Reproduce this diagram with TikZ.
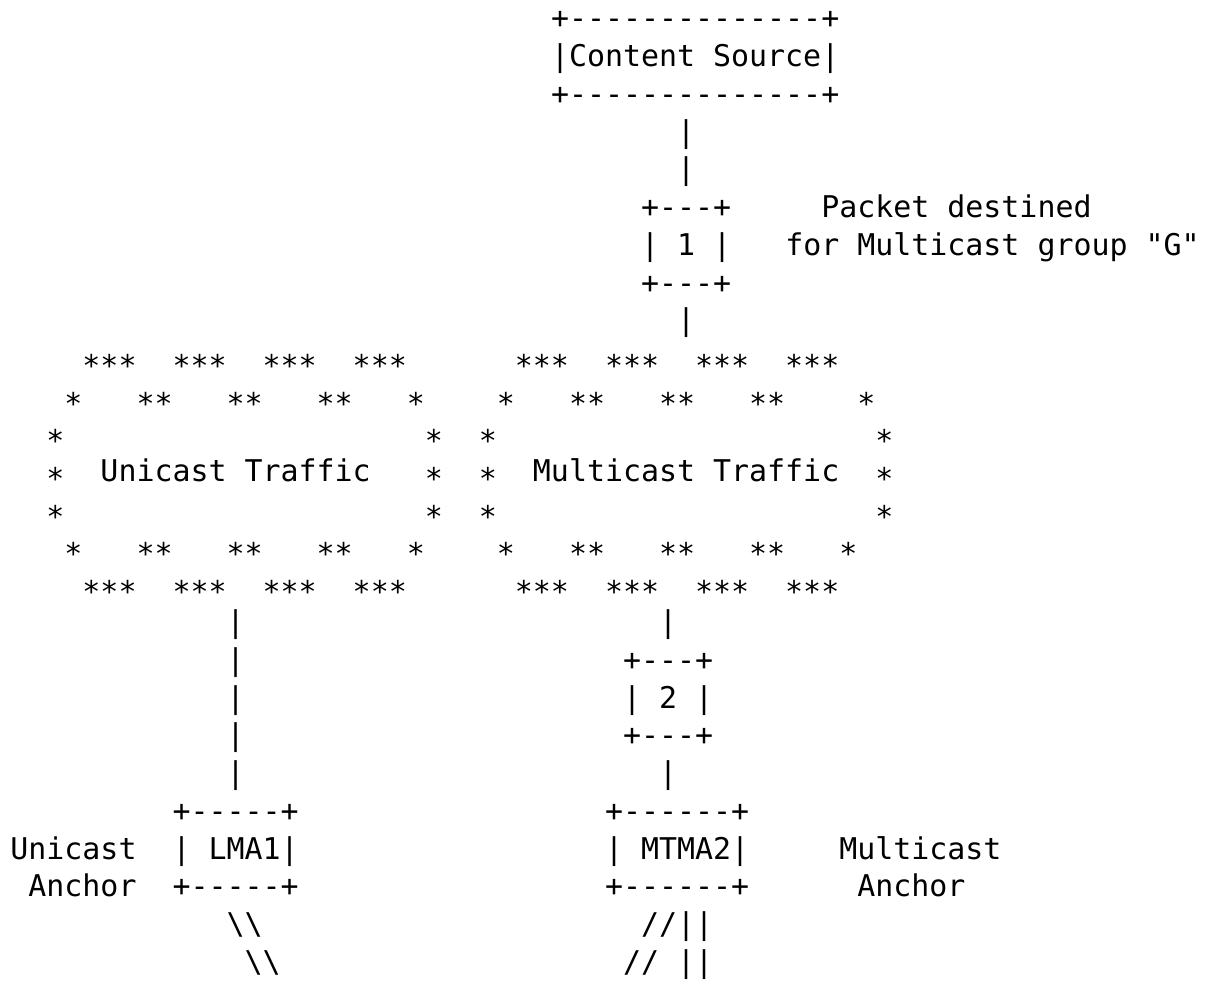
\documentclass[tikz,border=0pt]{standalone}
\usepackage{fontspec}
\setmonofont{DejaVu Sans Mono}
\newcommand\sk{\raisebox{-0.26em}{*}}
\newcommand\gap[1]{\hspace*{#1\dimexpr 9.01pt\relax}}
\newcommand\bsl{\textbackslash}
\newcommand\txtat[4]{\node[txt] (#1) at ({#2+0.577},{#3+0.768}) {#4};}
\begin{document}
\begin{tikzpicture}[x=9.01pt,y=-18.865pt,
  txt/.style={anchor=base west,inner sep=0pt,outer sep=0pt,text=black,
    font=\fontsize{14.965pt}{18pt}\selectfont\ttfamily}]
\useasboundingbox (0pt,0pt) rectangle (606pt,-490.5pt);
% Content source
\txtat{cstop}{30}{0}{+--------------+}
\txtat{cs}{30}{1}{|Content Source|}
\txtat{csbot}{30}{2}{+--------------+}
\txtat{la}{37}{3}{|}
\txtat{lb}{37}{4}{|}
% router 1
\txtat{onetop}{35}{5}{+---+}
\txtat{one}{35}{6}{|\gap{1}1\gap{1}|}
\txtat{onebot}{35}{7}{+---+}
\txtat{pkt}{45}{5}{Packet destined}
\txtat{grp}{43}{6}{for Multicast group "G"}
\txtat{lc}{37}{8}{|}
% clouds
\txtat{ua}{4}{9}{\sk\sk\sk\gap{2}\sk\sk\sk\gap{2}\sk\sk\sk\gap{2}\sk\sk\sk}
\txtat{ma}{28}{9}{\sk\sk\sk\gap{2}\sk\sk\sk\gap{2}\sk\sk\sk\gap{2}\sk\sk\sk}
\txtat{ub}{3}{10}{\sk\gap{3}\sk\sk\gap{3}\sk\sk\gap{3}\sk\sk\gap{3}\sk}
\txtat{mb}{27}{10}{\sk\gap{3}\sk\sk\gap{3}\sk\sk\gap{3}\sk\sk\gap{4}\sk}
\txtat{uc}{2}{11}{\sk\gap{20}\sk}
\txtat{mc}{26}{11}{\sk\gap{21}\sk}
\txtat{ud}{2}{12}{\sk\gap{2}Unicast Traffic\gap{3}\sk}
\txtat{md}{26}{12}{\sk\gap{2}Multicast Traffic\gap{2}\sk}
\txtat{ue}{2}{13}{\sk\gap{20}\sk}
\txtat{me}{26}{13}{\sk\gap{21}\sk}
\txtat{uf}{3}{14}{\sk\gap{3}\sk\sk\gap{3}\sk\sk\gap{3}\sk\sk\gap{3}\sk}
\txtat{mf}{27}{14}{\sk\gap{3}\sk\sk\gap{3}\sk\sk\gap{3}\sk\sk\gap{3}\sk}
\txtat{ug}{4}{15}{\sk\sk\sk\gap{2}\sk\sk\sk\gap{2}\sk\sk\sk\gap{2}\sk\sk\sk}
\txtat{mg}{28}{15}{\sk\sk\sk\gap{2}\sk\sk\sk\gap{2}\sk\sk\sk\gap{2}\sk\sk\sk}
% left branch
\txtat{ula}{12}{16}{|}
\txtat{ulb}{12}{17}{|}
\txtat{ulc}{12}{18}{|}
\txtat{uld}{12}{19}{|}
\txtat{ule}{12}{20}{|}
% right branch
\txtat{mla}{36}{16}{|}
\txtat{twotop}{34}{17}{+---+}
\txtat{two}{34}{18}{|\gap{1}2\gap{1}|}
\txtat{twobot}{34}{19}{+---+}
\txtat{mlb}{36}{20}{|}
% anchors
\txtat{lmatop}{9}{21}{+-----+}
\txtat{lma}{9}{22}{|\gap{1}LMA1|}
\txtat{lmabot}{9}{23}{+-----+}
\txtat{mtmatop}{33}{21}{+------+}
\txtat{mtma}{33}{22}{|\gap{1}MTMA2|}
\txtat{mtmabot}{33}{23}{+------+}
\txtat{ulbla}{0}{22}{Unicast}
\txtat{ulblb}{1}{23}{Anchor}
\txtat{mlbla}{46}{22}{Multicast}
\txtat{mlblb}{47}{23}{Anchor}
% tails
\txtat{uta}{12}{24}{\bsl\bsl}
\txtat{utb}{13}{25}{\bsl\bsl}
\txtat{mta}{35}{24}{//||}
\txtat{mtb}{34}{25}{//\gap{1}||}
\end{tikzpicture}
\end{document}
